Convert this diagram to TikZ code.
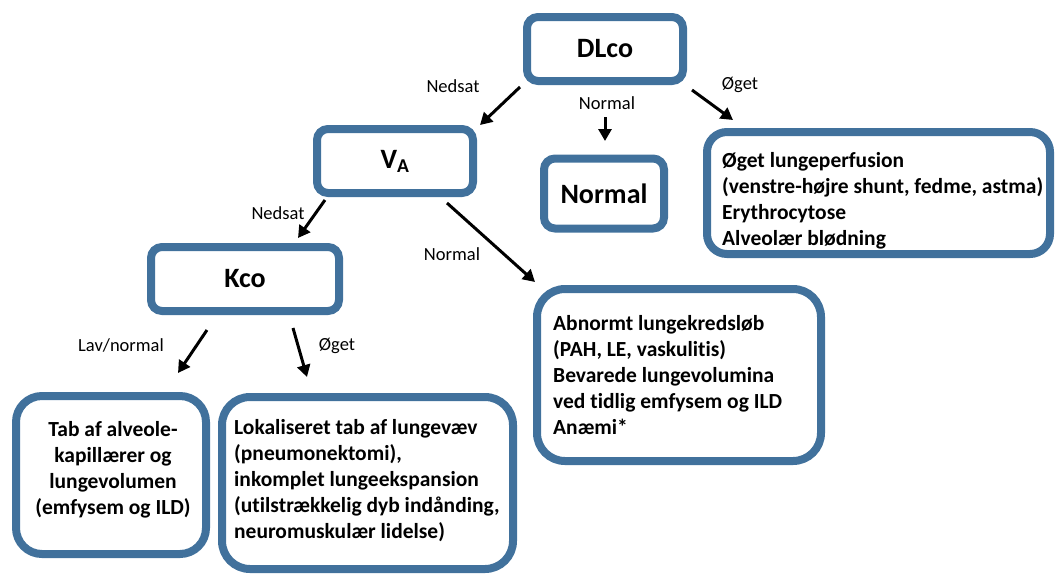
\documentclass[tikz,border=0pt]{standalone}
\usepackage{fontspec}
\setmainfont{Carlito}[Ligatures=NoCommon]
\usepackage{xcolor}
\usetikzlibrary{arrows.meta}
\definecolor{frameblue}{HTML}{41719C}
\tikzset{
  framebox/.style = {draw=frameblue,line width=8pt,rounded corners=#1,inner sep=0pt},
  headbox/.style  = {framebox=11pt,font=\bfseries\fontsize{28}{34}\selectfont},
  bodytxt/.style  = {align=left,inner sep=0pt,font=\bfseries\fontsize{21.5}{26}\selectfont},
  flowarr/.style  = {-{Triangle[length=12pt,width=13pt]},line width=3pt},
  branch/.style   = {font=\fontsize{18.5}{22}\selectfont}
}

\begin{document}
\begin{tikzpicture}[x=1pt,y=-1pt]
  \useasboundingbox (0,0) rectangle (1055,574);
  \node[headbox,minimum width=156pt,minimum height=64pt] (dlco)   at (605,49)    {DLco\hspace{22pt}};
  \node[headbox,minimum width=156pt,minimum height=64pt] (va)     at (395,161)   {V\textsubscript{A}\hspace{26pt}};
  \node[headbox,minimum width=120pt,minimum height=70pt] (normal) at (604,193.5) {Normal};
  \node[headbox,minimum width=188pt,minimum height=64pt] (kco)    at (245,279)   {Kco\hspace{20pt}};
  \node[framebox=20pt,minimum width=343pt,minimum height=122pt] (oget)  at (878.5,193) {};
  \node[framebox=28pt,minimum width=284pt,minimum height=172pt] (abn)   at (679,375)   {};
  \node[framebox=26pt,minimum width=190pt,minimum height=158pt] (tab)   at (111,475)   {};
  \node[framebox=28pt,minimum width=291pt,minimum height=172pt] (lokal) at (367.5,483) {};
  \node[bodytxt,anchor=west,yshift=-8pt] (ogettxt) at ([xshift=19pt]oget.west)
    {Øget lungeperfusion\\(venstre-højre shunt, fedme, astma)\\Erythrocytose\\Alveolær blødning};
  \node[bodytxt,anchor=west] (abntxt) at ([xshift=20pt]abn.west)
    {Abnormt lungekredsløb\\(PAH, LE, vaskulitis)\\Bevarede lungevolumina\\ved tidlig emfysem og ILD\\Anæmi*};
  \node[bodytxt,align=center,yshift=5pt] (tabtxt) at ([xshift=2pt]tab.center)
    {Tab af alveole-\\kapillærer og\\lungevolumen\\(emfysem og ILD)};
  \node[bodytxt,anchor=west,yshift=2pt] (lokaltxt) at ([xshift=16pt]lokal.west)
    {Lokaliseret tab af lungevæv\\(pneumonektomi),\\inkomplet lungeekspansion\\(utilstrækkelig dyb indånding,\\neuromuskulær lidelse)};
  \coordinate (d1) at (520,87);  \coordinate (v1) at (480,125);
  \coordinate (d2) at (605,117); \coordinate (n2) at (605,141);
  \coordinate (d3) at (692,90);  \coordinate (o3) at (733,120);
  \coordinate (v4) at (325,200); \coordinate (k4) at (298,238);
  \coordinate (v5) at (447,203); \coordinate (a5) at (535,282);
  \coordinate (k6) at (207,330); \coordinate (t6) at (178,373);
  \coordinate (k7) at (293,328); \coordinate (l7) at (307,377);
  \draw[flowarr] (d1) -- (v1);
  \draw[flowarr] (d2) -- (n2);
  \draw[flowarr] (d3) -- (o3);
  \draw[flowarr] (v4) -- (k4);
  \draw[flowarr] (v5) -- (a5);
  \draw[flowarr] (k6) -- (t6);
  \draw[flowarr] (k7) -- (l7);
  \node[branch] (lbl1) at (453,86)  {Nedsat};
  \node[branch] (lbl2) at (607,103) {Normal};
  \node[branch] (lbl3) at (740,85)  {Øget};
  \node[branch] (lbl4) at (278,213) {Nedsat};
  \node[branch] (lbl5) at (452,254) {Normal};
  \node[branch] (lbl6) at (121,345) {Lav/normal};
  \node[branch] (lbl7) at (337,346) {Øget};
\end{tikzpicture}
\end{document}
